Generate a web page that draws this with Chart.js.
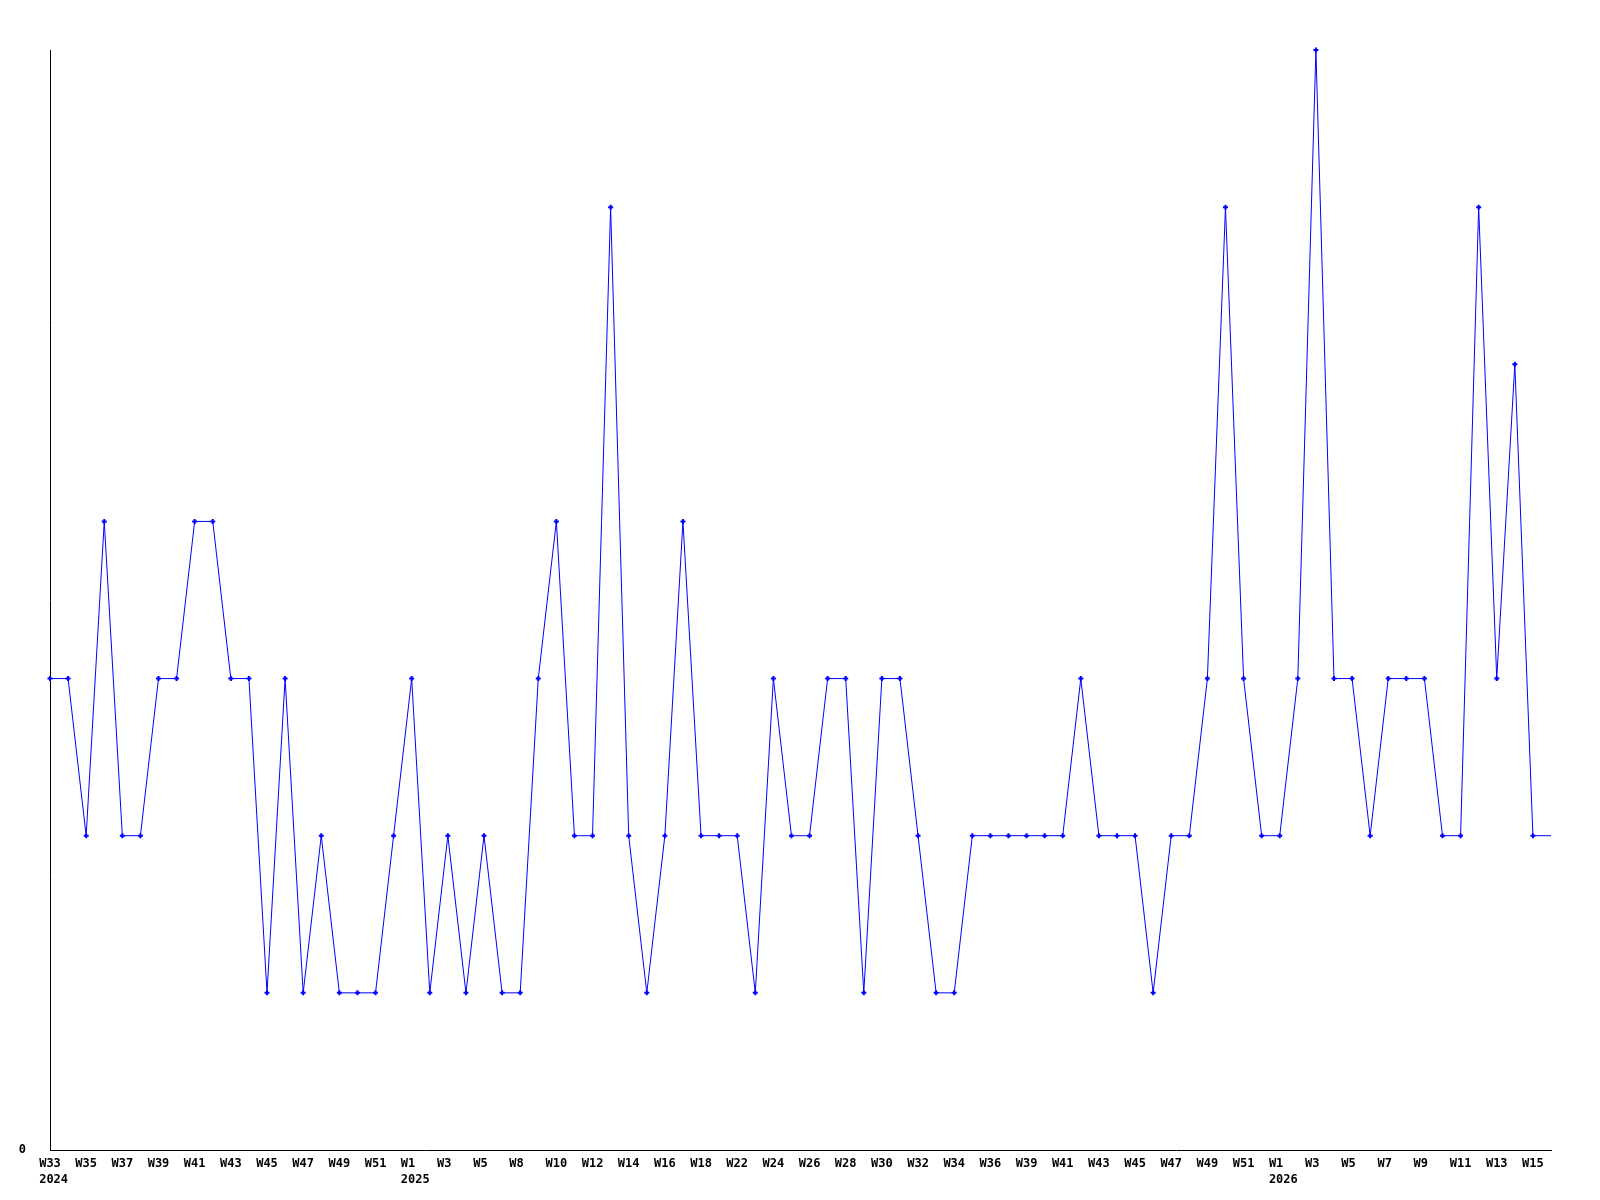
<!DOCTYPE html>
<html>
<head>
<meta charset="utf-8">
<script src="https://cdn.jsdelivr.net/npm/chart.js@4.4.1/dist/chart.umd.min.js"></script>
<style>
  html, body { margin: 0; padding: 0; background: #ffffff; }
  #wrap { width: 1600px; height: 1200px; }
</style>
</head>
<body>
<div id="wrap"><canvas id="c" width="1600" height="1200"></canvas></div>
<script>
// Week categories (ISO weeks present in the data)
const weeks = [
  "W33","W34","W35","W36","W37","W38","W39","W40","W41","W42",
  "W43","W44","W45","W46","W47","W48","W49","W50","W51","W52",
  "W1","W2","W3","W4","W5","W6","W8","W9","W10","W11",
  "W12","W13","W14","W15","W16","W17","W18","W20","W22","W23",
  "W24","W25","W26","W27","W28","W29","W30","W31","W32","W33",
  "W34","W35","W36","W37","W39","W40","W41","W42","W43","W44",
  "W45","W46","W47","W48","W49","W50","W51","W52",
  "W1","W2","W3","W4","W5","W6","W7","W8","W9","W10",
  "W11","W12","W13","W14","W15","W16"
];
// Year shown under the first week of each year
const years = [
  "2024","","","","","","","","","","","","","","","","","","","",
  "2025","","","","","","","","","","","","","","","","","","","",
  "","","","","","","","","","","","","","","","","","","","",
  "","","","","","","","",
  "2026","","","","","","","","","","","","","","",""
];
// Weekly counts
const counts = [
  3,3,2,4,2,2,3,3,4,4,
  3,3,1,3,1,2,1,1,1,2,
  3,1,2,1,2,1,1,3,4,2,
  2,6,2,1,2,4,2,2,2,1,
  3,2,2,3,3,1,3,3,2,1,
  1,2,2,2,2,2,2,3,2,2,
  2,1,2,2,3,6,3,2,2,3,
  7,3,3,2,3,3,3,2,2,6,
  3,5,2,2
];
const yTickLabels = ["0"];

const pointRadii = counts.map((v, i) => i === counts.length - 1 ? 0 : 2.5);

const fontFamily = '"DejaVu Sans Mono", "Liberation Mono", monospace';
const tickFont = { family: fontFamily, size: 12, weight: 'bold', lineHeight: 1.3 };
const tickPadding = 6;

// Draws the year line, left-aligned with the week label above it
const yearPlugin = {
  id: 'yearLabels',
  afterDraw(chart) {
    const sx = chart.scales.x;
    const ctx = chart.ctx;
    ctx.save();
    ctx.font = 'bold 12px ' + fontFamily;
    ctx.fillStyle = '#000000';
    ctx.textBaseline = 'middle';
    ctx.textAlign = 'left';
    const lh = tickFont.size * tickFont.lineHeight;
    const y = sx.top + tickPadding + lh * 1.5;
    const half = ctx.measureText('W00').width / 2;
    years.forEach((yr, i) => {
      if (!yr) return;
      const x = sx.getPixelForValue(i);
      ctx.fillText(yr, x - half, y);
    });
    ctx.restore();
  }
};

new Chart(document.getElementById('c'), {
  type: 'line',
  data: {
    labels: weeks,
    datasets: [{
      data: counts,
      borderColor: '#0000ff',
      backgroundColor: '#0000ff',
      borderWidth: 1,
      tension: 0,
      pointStyle: 'cross',
      pointRadius: pointRadii,
      pointBorderWidth: 2,
      pointBorderColor: '#0000ff',
      pointHoverRadius: 0,
      clip: false,
      fill: false
    }]
  },
  plugins: [yearPlugin],
  options: {
    responsive: false,
    animation: false,
    devicePixelRatio: 1,
    layout: { padding: { top: 50, right: 49, left: 0, bottom: 0 } },
    plugins: { legend: { display: false }, tooltip: { enabled: false } },
    scales: {
      x: {
        type: 'category',
        offset: false,
        grid: { display: false, drawTicks: false },
        border: { display: true, color: '#000000', width: 1 },
        afterFit: (s) => { s.height = 50; },
        ticks: {
          autoSkip: false,
          maxRotation: 0,
          minRotation: 0,
          padding: tickPadding,
          color: '#000000',
          font: tickFont,
          callback: function(value, index) {
            return index % 2 === 0 ? weeks[index].padEnd(3, '\u00a0') : null;
          }
        }
      },
      y: {
        min: 0,
        max: 7,
        grid: { display: false, drawTicks: false },
        border: { display: true, color: '#000000', width: 1 },
        afterFit: (s) => { s.width = 50; },
        ticks: {
          stepSize: 7,
          padding: 24,
          color: '#000000',
          font: { family: fontFamily, size: 12, weight: 'bold' },
          callback: function(value) {
            return value === 0 ? yTickLabels[0] : null;
          }
        }
      }
    }
  }
});
</script>
</body>
</html>
